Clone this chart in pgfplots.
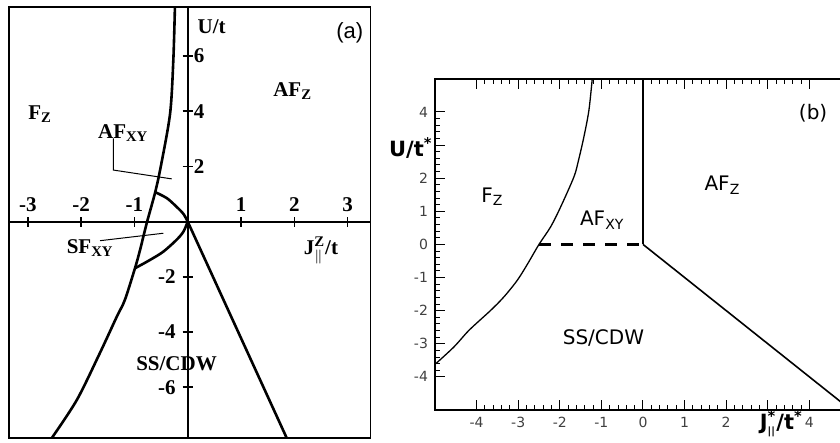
\documentclass[border=0pt]{standalone}
\usepackage{pgfplots}
\pgfplotsset{compat=1.18}
\usepackage{amsmath}
\usepackage{fontspec}
\setmainfont{Liberation Serif}
\newfontfamily\arial{Liberation Sans}
\newfontfamily\dvs{DejaVu Sans}
\begin{document}
\begin{tikzpicture}
% ---------------- panel (a) ----------------
\begin{axis}[
  at={(4.5pt,2.5pt)}, anchor=south west, scale only axis,
  width=180.85pt, height=215.5pt,
  xmin=-3.353, xmax=3.433, ymin=-7.84, ymax=7.78,
  axis lines=middle, axis line style={-, line width=0.85pt},
  xtick={-3,-2,-1,1,2,3}, ytick={2,4,6},
  xticklabels={-3,-2,-1,1,2,3}, yticklabels={2,4,6},
  extra y ticks={-6,-4,-2}, extra y tick labels={-6,-4,-2},
  extra y tick style={yticklabel style={anchor=east, xshift=-2pt}},
  tick align=center, major tick length=5pt,
  tick style={black, line width=0.8pt},
  ticklabel style={font=\fontsize{10.5}{12}\selectfont\bfseries},
  xticklabel style={anchor=south, yshift=4pt},
  yticklabel style={anchor=west, xshift=2pt},
  clip=false,
]
\draw[line width=0.65pt] (rel axis cs:0,0) rectangle (rel axis cs:1,1);
% left boundary
\addplot[black, line width=1.3pt, smooth, tension=0.5] coordinates {
  (-2.55,-7.84) (-2.08,-6.46) (-1.65,-4.77) (-1.33,-3.44) (-1.18,-2.84)
  (-0.99,-1.69) (-0.895,-1.03) (-0.77,-0.06) (-0.61,1.07) (-0.50,2.05)
  (-0.33,3.93) (-0.27,5.86) (-0.24,7.78)};
% upper arc
\addplot[black, line width=1.3pt, smooth] coordinates {
  (-0.61,1.07) (-0.39,0.85) (-0.21,0.54) (-0.08,0.28) (0,0)};
% lower arc
\addplot[black, line width=1.3pt, smooth] coordinates {
  (0,0) (-0.08,-0.36) (-0.21,-0.66) (-0.46,-1.09) (-0.71,-1.39) (-0.99,-1.69)};
% right line
\addplot[black, line width=1.3pt] coordinates {(0,0) (1.857,-7.84)};
% J=0 boundary above 0
\addplot[black, line width=1.1pt] coordinates {(0,0) (0,7.78)};
% leader lines
\addplot[black, line width=0.5pt] coordinates {(-1.396,3.02) (-1.396,1.87) (-0.30,1.55)};
\addplot[black, line width=0.5pt] coordinates {(-1.645,-0.69) (-0.458,-0.42)};
% labels
\node[font=\fontsize{10.5}{12}\selectfont\bfseries] at (axis cs:0.45,7.05) {U/t};
\node[font=\fontsize{11}{13}\selectfont\arial] at (axis cs:3.04,6.83) {(a)};
\node[font=\fontsize{10.5}{12}\selectfont\bfseries] at (axis cs:1.97,4.72) {AF\textsubscript{Z}};
\node[font=\fontsize{10.5}{12}\selectfont\bfseries] at (axis cs:-2.77,3.9) {F\textsubscript{Z}};
\node[font=\fontsize{10.5}{12}\selectfont\bfseries] at (axis cs:-1.21,3.2) {AF\textsubscript{XY}};
\node[font=\fontsize{10.5}{12}\selectfont\bfseries] at (axis cs:-1.83,-0.95) {SF\textsubscript{XY}};
\node[font=\fontsize{10.5}{12}\selectfont\bfseries] at (axis cs:-0.21,-5.13) {SS/CDW};
\node[font=\fontsize{10.5}{12}\selectfont\bfseries] at (axis cs:2.5,-1.05) {J$^{\text{\bfseries Z}}_{\|}$/t};
\end{axis}
% ---------------- panel (b) ----------------
\begin{axis}[
  at={(217.5pt,16.5pt)}, anchor=south west, scale only axis,
  width=208pt, height=165.6pt,
  xmin=-5, xmax=5, ymin=-5, ymax=5,
  xtick={-4,-3,-2,-1,0,1,2,3,4}, xticklabels={-4,-3,-2,-1,0,1,2,,4},
  ytick={-4,-3,-2,-1,0,1,2,3,4}, yticklabels={-4,-3,-2,-1,0,1,2,,4},
  minor tick num=4, tick align=inside,
  major tick length=5pt, minor tick length=2.5pt,
  tick style={black, line width=0.5pt},
  axis line style={line width=0.8pt},
  ticklabel style={font=\dvs\fontsize{7}{8}\selectfont, text=black!75},
  clip=false,
]
\addplot[black, line width=0.65pt, smooth, tension=0.5] coordinates {
  (-4.98,-3.6) (-4.54,-3.09) (-4.18,-2.59) (-3.66,-1.99) (-3.34,-1.58)
  (-3.02,-1.08) (-2.77,-0.58) (-2.50,0) (-2.22,0.53) (-1.98,1.13)
  (-1.66,2.04) (-1.55,2.54) (-1.42,3.25) (-1.30,4.05) (-1.22,5.0)};
\addplot[black, line width=1.15pt] coordinates {(0,0) (0,5)};
\addplot[black, line width=1.6pt, dash pattern=on 6pt off 5pt] coordinates {(-2.5,0) (0,0)};
\addplot[black, line width=0.8pt] coordinates {(0,0) (5,-5)};
\node[font=\dvs\fontsize{10}{12}\selectfont] at (axis cs:-3.62,1.43) {F\textsubscript{Z}};
\node[font=\dvs\fontsize{10}{12}\selectfont] at (axis cs:-0.98,0.73) {AF\textsubscript{XY}};
\node[font=\dvs\fontsize{10}{12}\selectfont] at (axis cs:1.91,1.79) {AF\textsubscript{Z}};
\node[font=\dvs\fontsize{10}{12}\selectfont] at (axis cs:-0.95,-2.82) {SS/CDW};
\node[font=\dvs\fontsize{10}{12}\selectfont] at (axis cs:4.09,3.95) {(b)};
\node[font=\dvs\bfseries\fontsize{10.5}{12}\selectfont] at (axis cs:-5.58,2.9) {U/t$^{\text{*}}$};
\node[font=\dvs\bfseries\fontsize{10.5}{12}\selectfont, anchor=east, inner xsep=0pt] at (axis cs:3.85,-5.42) {J$^{\text{*}}_{\text{\tiny ||}}$/t$^{\text{*}}$};
\end{axis}
\pgfresetboundingbox
\path[use as bounding box] (0,0) rectangle (420pt,221.5pt);
\end{tikzpicture}
\end{document}
